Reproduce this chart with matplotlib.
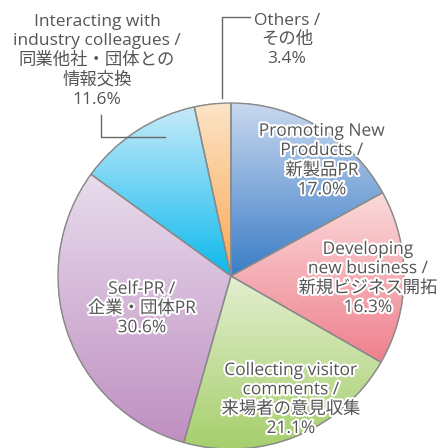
import numpy as np
import matplotlib
matplotlib.use("Agg")
import matplotlib.pyplot as plt
import matplotlib.patheffects as pe
from matplotlib.colors import to_rgb

plt.rcParams['font.family'] = ['Open Sans', 'Noto Sans CJK JP', 'DejaVu Sans']

# ---- data ----
categories = [
    "Promoting New\nProducts /\n新製品PR",
    "Developing\nnew business /\n新規ビジネス開拓",
    "Collecting visitor\ncomments /\n来場者の意見収集",
    "Self-PR /\n企業・団体PR",
    "Interacting with\nindustry colleagues /\n同業他社・団体との\n情報交換",
    "Others /\nその他",
]
values = [17.0, 16.3, 21.1, 30.6, 11.6, 3.4]

# ---- styles ----
top_colors = ["#c9d8ef", "#fadada", "#e3eed0", "#e8dcec", "#c6eafa", "#fde4c8"]
bot_colors = ["#3a7cc6", "#f0808e", "#a6cf6c", "#bf8fc2", "#0cb9ec", "#f8a850"]
W, H = 439, 448
center = (231, H - 276)
radius = 173
# label centres in pixel coords (x, y from top)
label_pos = [(322, 161), (368, 279), (291, 400), (142, 309), (97, 61), (287, 40)]
inside = [True, True, True, True, False, False]
text_color = "#555555"

fig = plt.figure(figsize=(W / 100, H / 100), dpi=100)
ax = fig.add_axes([0, 0, 1, 1])
wedges, _ = ax.pie(values, startangle=90, counterclock=False, center=center,
                   radius=radius, frame=True,
                   wedgeprops=dict(facecolor="none", edgecolor="#8a8a8a",
                                   linewidth=1.0, zorder=3))

# gradient fill image, computed from the wedge geometry returned by pie
cx, cy = center
n = 4 * radius
gx = np.linspace(cx - radius, cx + radius, n)
gy = np.linspace(cy + radius, cy - radius, n)
X, Y = np.meshgrid(gx, gy)
ang = np.degrees(np.arctan2(Y - cy, X - cx)) % 360
dist = np.hypot(X - cx, Y - cy)
rgba = np.zeros((n, n, 4))
for w, c0, c1 in zip(wedges, top_colors, bot_colors):
    t1, t2 = w.theta1, w.theta2
    th = np.radians(np.linspace(t1, t2, 200))
    ys = np.concatenate([[cy], cy + w.r * np.sin(th)])
    y0, y1 = ys.min(), ys.max()
    rel = (ang - t1) % 360
    mask = (rel <= (t2 - t1)) & (dist <= w.r + 0.5)
    tt = np.clip((Y - y0) / (y1 - y0), 0, 1)
    a0, a1 = np.array(to_rgb(c0)), np.array(to_rgb(c1))
    col = a1[None, None, :] + (a0 - a1)[None, None, :] * tt[..., None]
    rgba[mask, :3] = col[mask]
    rgba[mask, 3] = 1.0
ax.imshow(rgba, extent=[cx - radius, cx + radius, cy - radius, cy + radius],
          origin="upper", aspect="auto", zorder=2, interpolation="bilinear")

ax.set_xlim(0, W)
ax.set_ylim(0, H)
ax.set_aspect("auto")
ax.axis("off")

for cat, v, (lx, ly), ins in zip(categories, values, label_pos, inside):
    txt = f"{cat}\n{v:.1f}%"
    t = ax.text(lx, H - ly, txt, ha="center", va="center", fontsize=12.5,
                color=text_color, linespacing=1.27, zorder=5)
    if ins:
        t.set_path_effects([pe.withStroke(linewidth=3, foreground="white")])

# leader lines
ax.plot([165, 101, 101], [H - 137, H - 137, H - 115], color="#666666", lw=1.0, zorder=4)
ax.plot([222, 222, 250], [H - 98, H - 17, H - 17], color="#666666", lw=1.0, zorder=4)

fig.savefig("out.png", dpi=100)
